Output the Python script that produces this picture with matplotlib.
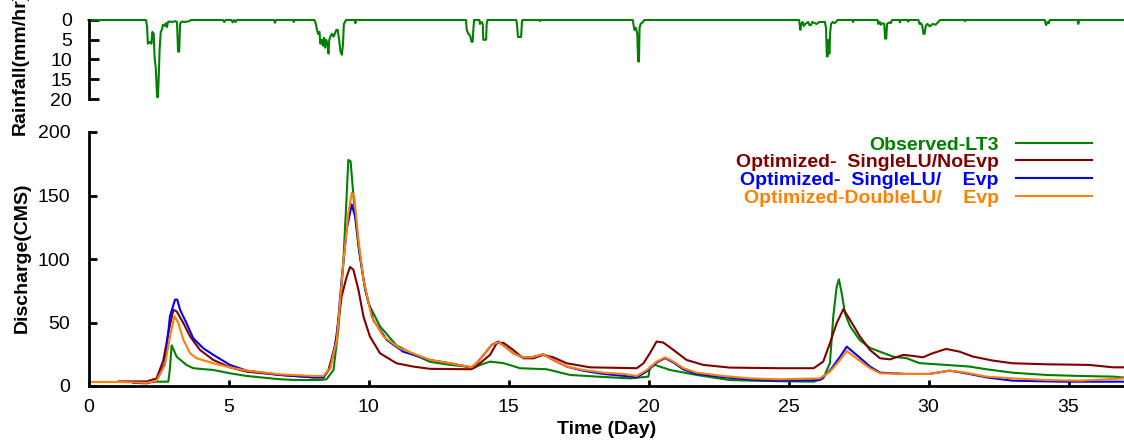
import matplotlib
matplotlib.use("Agg")
import matplotlib.pyplot as plt

# ---------------- data ----------------
rain_day = [0, 2.05, 2.09, 2.12, 2.2, 2.25, 2.28, 2.33, 2.36, 2.4, 2.42, 2.45, 2.48, 2.51, 2.54, 2.58, 2.62,
            2.66, 2.72, 2.76, 2.8, 2.84, 2.9, 3.0, 3.1, 3.16, 3.2, 3.24, 3.27, 3.32, 3.45, 3.6, 3.65,
            4.8, 4.85, 4.9, 5.1, 5.15, 5.2, 5.25, 5.3, 6.62, 6.66, 6.7, 7.3, 7.33, 7.36,
            8.07, 8.12, 8.16, 8.2, 8.25, 8.28, 8.33, 8.37, 8.41, 8.45, 8.49, 8.53, 8.57, 8.6, 8.65, 8.7,
            8.75, 8.8, 8.85, 8.9, 8.95, 9.0, 9.05, 9.09, 9.12, 9.16, 9.2, 9.5, 9.53, 9.56,
            13.48, 13.51, 13.56, 13.63, 13.68, 13.72, 13.74, 13.77, 13.96, 13.98, 14.04, 14.08, 14.1,
            14.2, 14.22, 14.25, 15.28, 15.3, 15.34, 15.45, 15.48, 15.5, 16.1, 16.12, 16.14,
            19.44, 19.46, 19.5, 19.55, 19.6, 19.63, 19.66, 19.68, 19.72, 19.8, 19.85,
            25.38, 25.42, 25.46, 25.5, 25.55, 25.6, 25.7, 25.75, 25.8, 25.85, 26.0, 26.1, 26.3, 26.34,
            26.37, 26.4, 26.43, 26.46, 26.49, 26.52, 26.58, 26.65, 26.72, 26.75, 27.28, 27.31, 27.34,
            28.18, 28.21, 28.26, 28.3, 28.35, 28.42, 28.45, 28.49, 28.52, 28.6, 28.65, 28.7,
            28.95, 28.98, 29.0, 29.25, 29.28, 29.3, 29.64, 29.68, 29.72, 29.77, 29.82, 29.86, 29.9,
            29.96, 30.05, 30.15, 30.25, 30.35, 30.42, 31.28, 31.3, 31.32, 34.15, 34.2, 34.25, 34.3,
            34.33, 35.32, 35.35, 35.38, 37.5]
rain_mm = [0, 0, 1.5, 6, 5.5, 6, 3, 3.5, 9.5, 12, 14.5, 19.5, 19.5, 14, 7.5, 3, 2.5,
           1.2, 1.5, 0.8, 1.8, 0.5, 0.4, 0.5, 0.3, 0.5, 8, 8, 1, 0.4, 0.5, 0.3, 0,
           0, 0.5, 0, 0, 0.6, 0, 0.5, 0, 0, 0.7, 0, 0, 0.5, 0,
           0, 1, 2.5, 3.5, 3, 6, 5, 6.5, 4.5, 7, 5, 6, 8.5, 5, 4, 3.5,
           4.2, 3.5, 2.5, 2.5, 5, 8, 8.8, 6, 1, 0.5, 0, 0, 0.8, 0,
           0, 2.5, 3.4, 4, 5.5, 5.5, 3, 0, 0, 1, 0.5, 1, 5,
           5, 1, 0, 0, 1, 4.3, 4.3, 0.5, 0, 0, 0.3, 0,
           0, 1, 2.5, 2, 3.5, 10.5, 10.5, 2, 1, 0.5, 0,
           0, 2.5, 1, 0.5, 1.5, 1, 0.5, 1.3, 1.3, 0.5, 1, 0.5, 0.5, 2,
           9.2, 9.2, 5, 8.5, 3, 1, 0.5, 0.8, 0.3, 0, 0, 0.5, 0,
           0, 1, 0.5, 1.2, 0.8, 1, 4.7, 4.7, 1, 0.6, 0.8, 0,
           0, 0.6, 0, 0, 0.4, 0, 0, 1, 0.8, 1.2, 3.5, 3.5, 1.5,
           1, 1.6, 1, 1.2, 0.5, 0, 0, 0.3, 0, 0, 1.3, 0.5, 0.8,
           0, 0, 1, 0, 0]

obs_day = [2.2, 2.43, 2.85, 2.9, 2.97, 3.15, 3.5, 3.74, 4.46, 5.05, 5.65, 6.24, 6.84, 7.43, 8.27, 8.5,
           8.75, 8.92, 9.1, 9.22, 9.28, 9.36, 9.46, 9.64, 9.82, 10.0, 10.41, 11.0, 11.6, 12.2, 12.8,
           13.4, 13.75, 13.98, 14.34, 14.82, 15.41, 16.36, 17.2, 18.15, 19.34, 20.0, 20.05, 20.23,
           20.77, 21.72, 22.9, 24.1, 25.9, 26.24, 26.48, 26.6, 26.72, 26.8, 26.9, 27.02, 27.2,
           27.55, 27.91, 28.27, 28.75, 29.2, 29.68, 30.63, 31.46, 32.06, 33.0, 34.2, 35.4, 36.6, 37.0]
obs_q = [3.4, 3.4, 3.4, 12, 32, 23, 16.6, 14, 12.6, 10, 7.9, 6.6, 5.3, 4.7, 4.7, 5.3,
         12.6, 44, 97, 150, 178, 177, 150, 110, 84, 65, 47, 32, 25, 19, 17,
         15.5, 14, 16.5, 19.2, 18, 14, 13.2, 8.7, 7.4, 6, 7.4, 15, 16.6,
         12.6, 8.7, 4.7, 4, 3.4, 6, 18, 55, 78, 84, 73, 57, 47,
         36, 30, 27, 23, 22, 18, 16.6, 15.3, 13.2, 10.5, 8.7, 7.9, 7.4, 6.6]

noevp_day = [1.07, 2.08, 2.43, 2.67, 2.85, 3.03, 3.15, 3.39, 3.63, 3.98, 4.46, 5.05, 5.65, 6.84, 8.03,
             8.39, 8.57, 8.8, 9.04, 9.22, 9.34, 9.46, 9.64, 9.82, 10.05, 10.41, 11.0, 11.6, 12.2,
             13.68, 13.98, 14.34, 14.58, 14.82, 15.17, 15.53, 15.89, 16.24, 16.6, 17.08, 17.91,
             19.58, 19.82, 20.05, 20.29, 20.53, 20.89, 21.36, 21.96, 22.9, 24.7, 25.9, 26.24, 26.48,
             26.72, 26.96, 27.2, 27.55, 27.91, 28.27, 28.63, 29.1, 29.44, 29.8, 30.15, 30.63, 31.1,
             31.58, 32.3, 33.0, 34.2, 35.74, 36.6, 37.0]
noevp_q = [3.6, 3.6, 6, 20, 41.6, 60, 58.7, 49.5, 39, 28.4, 20.5, 14.7, 11.3, 8.7, 6.8,
           6.8, 12.6, 31, 70.5, 86, 93.7, 91.6, 75.8, 54.7, 39, 25.8, 17.9, 15.3, 13.5,
           13.2, 17.9, 24.5, 33.7, 34, 28.4, 21.8, 21.8, 24.5, 22.6, 17.9, 14.7,
           14, 17.9, 25.8, 35, 34.2, 28.4, 20.5, 16.6, 14.5, 14, 14, 19.2, 33.7,
           49.5, 60.5, 52, 39, 28.4, 21.8, 21, 24.5, 23.7, 22.6, 25.8, 29.2, 27.1,
           23.2, 20, 17.9, 17.1, 16.6, 14.7, 14.7]

single_day = [1.6, 2.08, 2.43, 2.73, 2.91, 3.09, 3.17, 3.27, 3.5, 3.74, 4.1, 4.46, 5.05, 5.65, 6.84,
              8.03, 8.39, 8.63, 8.87, 9.04, 9.22, 9.4, 9.52, 9.7, 9.88, 10.17, 10.65, 11.24, 12.2,
              12.91, 13.68, 13.86, 14.16, 14.4, 14.64, 14.88, 15.17, 15.53, 15.83, 16.24, 16.6,
              17.08, 17.67, 18.39, 19.1, 19.58, 19.94, 20.29, 20.59, 20.89, 21.25, 21.72, 22.67,
              23.63, 24.7, 26.12, 26.48, 26.84, 27.08, 27.43, 27.91, 28.27, 29.2, 30.04, 30.75,
              31.34, 32.06, 33.0, 34.8, 37.0]
single_q = [2.5, 2.1, 4.2, 18, 55, 68, 68, 60, 49.5, 37.6, 29.7, 24.5, 16.6, 12.1, 8.7,
            6.8, 6.8, 14, 39, 83.7, 123, 143, 133.7, 102, 75.8, 52, 36.3, 27, 20.5,
            17.9, 14.7, 17.9, 25.8, 32.4, 35, 31, 25.8, 22.4, 22.6, 25, 20.5,
            15.3, 12, 9.5, 8, 6.8, 11.5, 18.5, 22, 18.5, 13, 9.5, 7,
            5, 4.2, 4.7, 12.1, 23, 31, 24.5, 15.3, 10.5, 9.5, 9.5, 12.1,
            10, 6.8, 4.2, 3.4, 3.4]

double_day = [0, 1.1, 2.08, 2.43, 2.73, 2.91, 3.07, 3.21, 3.39, 3.63, 3.86, 4.46, 5.05, 5.65, 6.84,
              8.03, 8.39, 8.63, 8.87, 9.1, 9.28, 9.4, 9.49, 9.64, 9.82, 10.11, 10.53, 11.12, 12.2,
              12.91, 13.68, 13.86, 14.16, 14.4, 14.64, 14.88, 15.17, 15.53, 15.83, 16.24, 16.6,
              17.08, 17.67, 18.39, 19.1, 19.58, 19.94, 20.29, 20.59, 20.89, 21.25, 21.72, 22.67,
              23.63, 24.7, 26.12, 26.48, 26.84, 27.08, 27.43, 27.91, 28.27, 29.2, 30.04, 30.75,
              31.34, 32.06, 33.0, 34.2, 35.4, 37.0]
double_q = [3.2, 3.2, 2.5, 4.2, 16.6, 39, 55, 49.5, 36.3, 25.8, 21.8, 17.9, 14.7, 12.1, 9.2,
            7.9, 7.9, 14, 36.3, 97, 136, 152, 149.5, 115, 83.7, 54.7, 39, 29.7, 20.5,
            17.9, 14.7, 17.9, 25.8, 32.4, 34.5, 31, 25.8, 22.4, 22.6, 25, 20.5,
            15.3, 12.6, 10.5, 9.5, 7.9, 12.6, 19.2, 22.6, 19.2, 14, 10.5, 7.9,
            6, 5.3, 6, 11.3, 20.5, 27.6, 21.8, 14, 10, 9.5, 9.5, 12.1,
            10.5, 7.4, 6, 4.7, 4.2, 6]

labels = ["Observed-LT3", "Optimized-  SingleLU/NoEvp", "Optimized-  SingleLU/    Evp",
          "Optimized-DoubleLU/    Evp"]
colors = ["#008000", "#800000", "#0000ff", "#ff8000"]
x_ticks = [0, 5, 10, 15, 20, 25, 30, 35]
q_ticks = [0, 50, 100, 150, 200]
rain_ticks = [0, 5, 10, 15, 20]

# ---------------- figure ----------------
plt.rcParams["font.family"] = ["Liberation Sans", "DejaVu Sans"]
W, H = 1124, 446
fig = plt.figure(figsize=(W / 100, H / 100), dpi=100)

left = 88.5 / W
right_px = 88.5 + 37 * 28.0
ax = fig.add_axes([left, (H - 386) / H, (right_px - 88.5) / W, (386 - 132) / H])
axr = fig.add_axes([left, (H - 99) / H, (right_px - 88.5) / W, (99 - 20) / H])

# rainfall panel
axr.plot(rain_day, rain_mm, color="#008000", lw=1.5, clip_on=False)
axr.set_xlim(0, 37)
axr.set_ylim(20, 0)
axr.set_yticks(rain_ticks)
axr.set_xticks([])
for s in ["top", "right", "bottom"]:
    axr.spines[s].set_visible(False)
axr.spines["left"].set_linewidth(2)
axr.tick_params(axis="y", direction="in", length=7, width=2, pad=12, labelsize=14)

# discharge panel
series = [(obs_day, obs_q), (noevp_day, noevp_q), (single_day, single_q), (double_day, double_q)]
for (d, q), lab, c in zip(series, labels, colors):
    ax.plot(d, q, color=c, lw=1.5, label=lab)
ax.set_xlim(0, 37)
ax.set_ylim(0, 200)
ax.set_xticks(x_ticks)
ax.set_yticks(q_ticks)
for s in ["top", "right"]:
    ax.spines[s].set_visible(False)
for s in ["left", "bottom"]:
    ax.spines[s].set_linewidth(2)
ax.tick_params(axis="y", direction="in", length=6, width=2, pad=13, labelsize=14)
ax.tick_params(axis="x", direction="in", length=4, width=2, pad=9, labelsize=14)
ax.set_xlabel("Time (Day)", fontsize=14, fontweight="bold", labelpad=4)

fig.text(22 / W, 1 - 258 / H, "Discharge(CMS)", rotation=90, ha="center", va="center",
         fontsize=14, fontweight="bold")
fig.text(20 / W, 1 - 135 / H, "Rainfall(mm/hr)", rotation=90, ha="center", va="bottom",
         fontsize=14, fontweight="bold")

leg = ax.legend(loc="upper right", bbox_to_anchor=((1092 - 88.5) / (right_px - 88.5), 0.984),
                frameon=False, markerfirst=False, labelcolor="linecolor",
                prop={"size": 14, "weight": "bold"}, handlelength=3.9, handletextpad=0.9,
                labelspacing=0.0, borderpad=0, borderaxespad=0)

fig.savefig("out.png", dpi=100)
